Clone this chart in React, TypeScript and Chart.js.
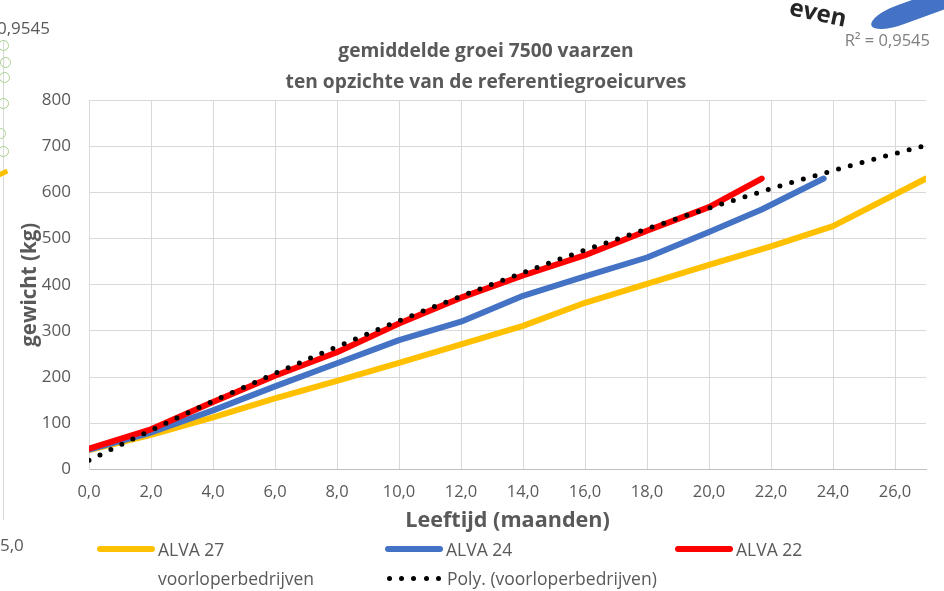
import React, { useEffect, useRef } from 'react';
import { Chart, registerables } from 'chart.js';

Chart.register(...registerables);

const titleLines = ['gemiddelde groei 7500 vaarzen', 'ten opzichte van de referentiegroeicurves'];
const xTitle = 'Leeftijd (maanden)';
const yTitle = 'gewicht (kg)';

const alva27Months = [0, 2, 4, 6, 8, 10, 12, 14, 16, 18, 20, 22, 24, 27];
const alva27Weights = [42, 75, 113, 154, 192, 231, 271, 311, 361, 402, 443, 483, 527, 630];

const alva24Months = [0, 2, 4, 6, 8, 10, 12, 14, 16, 18, 20, 21.7, 23.7];
const alva24Weights = [43, 80, 128, 180, 230, 280, 320, 376, 418, 459, 514, 563, 630];

const alva22Months = [0, 2, 4, 6, 8, 10, 12, 14, 16, 18, 20, 21.7];
const alva22Weights = [45, 87, 146, 203, 254, 316, 372, 420, 464, 517, 568, 630];

const polyMonths = [0, 1, 2, 3, 4, 5, 6, 7, 8, 9, 10, 11, 12, 13, 14, 15, 16, 17, 18, 19, 20, 21, 22, 23, 24, 25, 26, 27];
const polyWeights = [20, 53, 85, 117, 148, 178, 208, 237, 266, 294, 322, 349, 375, 401, 426, 451, 475, 498, 521, 544, 566, 587, 608, 628, 647, 666, 684, 702];

const legendRow1 = [
  { label: 'ALVA 27', color: '#FFC000' },
  { label: 'ALVA 24', color: '#4472C4' },
  { label: 'ALVA 22', color: '#FF0000' },
];
const legendRow2 = ['voorloperbedrijven', 'Poly. (voorloperbedrijven)'];

const FONT = "'Open Sans'";
const TXT = '#595959';
const GRID = '#D9D9D9';

const pts = (xs: number[], ys: number[]) => xs.map((x, i) => ({ x, y: ys[i] }));

const titleShift = {
  id: 'titleShift',
  afterLayout(chart: any) {
    const t = chart.titleBlock;
    if (t) {
      t.left = 0;
      t.right = 972;
      t.width = 972;
    }
  },
};

export default function App() {
  const ref = useRef<HTMLCanvasElement>(null);
  useEffect(() => {
    const chart = new Chart(ref.current!, {
      type: 'line',
      plugins: [titleShift],
      data: {
        datasets: [
          {
            label: 'Poly. (voorloperbedrijven)',
            data: pts(polyMonths, polyWeights),
            borderColor: '#000000',
            borderWidth: 5,
            borderDash: [0, 12.2],
            borderCapStyle: 'round',
            pointRadius: 0,
            tension: 0,
            fill: false,
          },
          {
            label: 'ALVA 22',
            data: pts(alva22Months, alva22Weights),
            borderColor: '#FF0000',
            borderWidth: 6,
            borderCapStyle: 'round',
            borderJoinStyle: 'round',
            pointRadius: 0,
            tension: 0,
          },
          {
            label: 'ALVA 24',
            data: pts(alva24Months, alva24Weights),
            borderColor: '#4472C4',
            borderWidth: 6,
            borderCapStyle: 'round',
            borderJoinStyle: 'round',
            pointRadius: 0,
            tension: 0,
          },
          {
            label: 'ALVA 27',
            data: pts(alva27Months, alva27Weights),
            borderColor: '#FFC000',
            borderWidth: 6,
            borderCapStyle: 'round',
            borderJoinStyle: 'round',
            pointRadius: 0,
            tension: 0,
          },
        ] as any,
      },
      options: {
        animation: false,
        responsive: false,
        font: { family: FONT },
        layout: { padding: { left: 0, right: 18, top: 0, bottom: 51.5 } },
        plugins: {
          legend: { display: false },
          tooltip: { enabled: false },
          title: {
            display: true,
            text: titleLines,
            color: TXT,
            font: { family: FONT, size: 19.2, weight: 'bold', lineHeight: '31px' },
            padding: { top: 36.5, bottom: 1.5 },
          },
        },
        scales: {
          x: {
            type: 'linear',
            min: 0,
            max: 27,
            afterFit: (s: any) => { s.height = 70; },
            ticks: {
              stepSize: 2,
              includeBounds: false,
              autoSkip: false,
              maxRotation: 0,
              padding: 13,
              color: TXT,
              font: { family: FONT, size: 16.5 },
              callback: (v: any) => Number(v).toFixed(1).replace('.', ','),
            },
            grid: { color: GRID, drawTicks: false, lineWidth: 1 },
            border: { color: '#BFBFBF' },
            title: {
              display: true,
              text: xTitle,
              color: TXT,
              font: { family: FONT, size: 21.6, weight: 'bold' },
              padding: { top: 0, bottom: 5.6 },
            },
          },
          y: {
            type: 'linear',
            min: 0,
            max: 800,
            afterFit: (s: any) => { s.width = 89; },
            ticks: {
              stepSize: 100,
              padding: 18,
              color: TXT,
              font: { family: FONT, size: 17 },
            },
            grid: { color: GRID, drawTicks: false, lineWidth: 1 },
            border: { color: GRID },
            title: {
              display: true,
              text: yTitle,
              color: TXT,
              font: { family: FONT, size: 20.5, weight: 'bold' },
              padding: { top: 17.7, bottom: 0 },
            },
          },
        },
      } as any,
    });
    return () => chart.destroy();
  }, []);

  const legendX = [97, 385, 675];
  const textStyle: React.CSSProperties = {
    position: 'absolute',
    fontFamily: FONT,
    fontSize: 17.5,
    color: TXT,
    lineHeight: '20px',
    whiteSpace: 'nowrap',
  };

  return (
    <div style={{ position: 'fixed', left: 0, top: 0, width: 944, height: 591, background: '#fff', overflow: 'hidden' }}>
      <canvas ref={ref} width={944} height={591} style={{ position: 'absolute', left: 0, top: 0 }} />

      {legendRow1.map((it, i) => (
        <React.Fragment key={it.label}>
          <div style={{ position: 'absolute', left: legendX[i], top: 546, width: 58, height: 6, borderRadius: 3, background: it.color }} />
          <div style={{ ...textStyle, left: legendX[i] + 61, top: 539 }}>{it.label}</div>
        </React.Fragment>
      ))}
      <div style={{ ...textStyle, left: legendX[0] + 61, top: 568 }}>{legendRow2[0]}</div>
      {[0, 1, 2, 3, 4].map((k) => (
        <div key={k} style={{ position: 'absolute', left: legendX[1] + 2 + k * 12.2, top: 575.5, width: 5, height: 5, borderRadius: '50%', background: '#000' }} />
      ))}
      <div style={{ ...textStyle, left: legendX[1] + 62, top: 568 }}>{legendRow2[1]}</div>

      {/* fragments of neighbouring charts visible in the screenshot */}
      <div style={{ position: 'absolute', left: 3, top: 40, width: 1, height: 480, background: GRID }} />
      <div style={{ ...textStyle, fontSize: 17, right: 944 - 50, top: 18 }}>0,9545</div>
      <div style={{ ...textStyle, fontSize: 17, left: 0, top: 535 }}>5,0</div>
      {[[-2, 40], [0, 57], [-1, 72], [-2, 98], [-5, 128], [-2, 146]].map(([x, y], k) => (
        <div key={'g' + k} style={{ position: 'absolute', left: x, top: y, width: 9, height: 9, borderRadius: '50%', border: '1px solid #A9D18E' }} />
      ))}
      <div style={{ position: 'absolute', left: -4, top: 171, width: 12, height: 5, background: '#FFC000', transform: 'rotate(-25deg)' }} />
      <div style={{ ...textStyle, fontSize: 16.5, color: '#7F7F7F', right: 944 - 930, top: 30 }}>R² = 0,9545</div>
      <div style={{ ...textStyle, fontSize: 24, fontWeight: 'bold', color: '#262626', left: 790, top: -4, transform: 'rotate(12deg)', transformOrigin: 'left center' }}>even</div>
      <div style={{ position: 'absolute', left: 868, top: 16, width: 100, height: 20, background: '#4472C4', borderRadius: '50% 0 0 50% / 80% 0 0 80%', transform: 'rotate(-20deg)', transformOrigin: 'left top' }} />
    </div>
  );
}
